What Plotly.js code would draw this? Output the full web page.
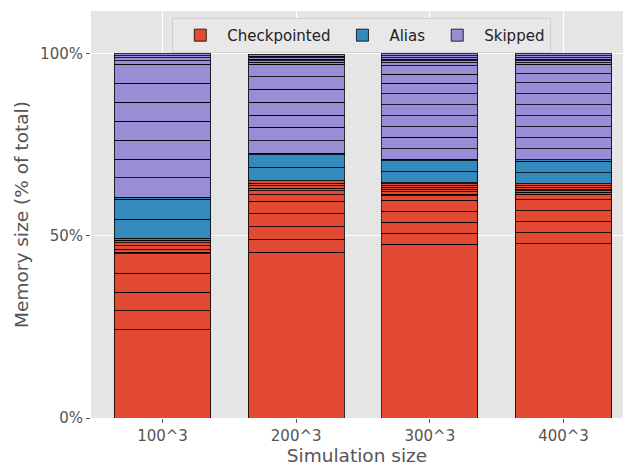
<!DOCTYPE html>
<html>
<head>
<meta charset="utf-8">
<script src="https://cdn.plot.ly/plotly-3.0.1.min.js"></script>
<style>html,body{margin:0;padding:0;background:#fff;}#chart{width:633px;height:466px;}</style>
</head>
<body>
<div id="chart"></div>
<script>
// Category labels (x axis)
const sizes = ['100^3', '200^3', '300^3', '400^3'];

// Segment sizes (% of total), bottom to top, one list per simulation size
const checkpointed = [
  [24.2, 5.2, 5.2, 5.2, 5.3, 0.5, 0.8, 0.9, 0.8, 0.7, 0.6],
  [45.6, 3.5, 3.5, 3.5, 3.4, 1.8, 1.1, 0.7, 0.7, 0.7, 0.7],
  [47.7, 3.0, 3.1, 3.0, 3.0, 1.2, 0.5, 0.7, 0.6, 0.6, 0.4, 0.5, 0.3],
  [47.9, 3.0, 3.0, 3.0, 3.0, 1.5, 0.6, 0.4, 0.5, 0.4, 0.5, 0.5]
];
const alias = [
  [5.2, 5.5, 0.5],
  [3.6, 3.5, 0.4],
  [3.0, 3.0, 0.5],
  [3.1, 3.1, 0.4]
];
const skipped = [
  [5.4, 5.1, 5.2, 5.2, 5.3, 5.1, 5.3, 0.9, 0.9, 0.5, 0.5],
  [3.5, 3.7, 3.3, 3.5, 3.6, 3.4, 3.5, 0.5, 0.4, 0.5, 0.4, 0.4, 0.5],
  [2.9, 3.1, 2.9, 3.0, 3.1, 3.0, 2.9, 2.4, 2.4, 0.8, 0.5, 0.4, 0.5, 0.5, 0.5],
  [3.1, 3.0, 3.0, 3.0, 3.1, 3.0, 3.0, 2.5, 2.6, 0.4, 0.5, 0.4, 0.5, 0.5, 0.5]
];

const groups = [
  {name: 'Checkpointed', data: checkpointed, color: '#E24A33'},
  {name: 'Alias', data: alias, color: '#348ABD'},
  {name: 'Skipped', data: skipped, color: '#988ED5'}
];

const traces = [];
groups.forEach(g => {
  const maxLen = Math.max(...g.data.map(d => d.length));
  for (let j = 0; j < maxLen; j++) {
    traces.push({
      type: 'bar',
      x: sizes,
      y: g.data.map(d => (j < d.length ? d[j] : null)),
      name: g.name,
      legendgroup: g.name,
      showlegend: j === 0,
      width: 0.72,
      marker: {color: g.color, line: {color: 'rgba(0,0,0,0.8)', width: 1}},
      hoverinfo: 'x+y+name'
    });
  }
});

const layout = {
  width: 633, height: 466,
  margin: {l: 91, r: 10, t: 11, b: 48},
  paper_bgcolor: '#ffffff',
  plot_bgcolor: '#E5E5E5',
  barmode: 'stack',
  bargap: 0,
  font: {family: 'DejaVu Sans, sans-serif', color: '#555555', size: 15},
  xaxis: {
    type: 'category',
    range: [-0.535, 3.445],
    showgrid: true, gridcolor: '#ffffff', gridwidth: 1,
    ticks: 'outside', ticklen: 4, tickcolor: '#555555', tickwidth: 1,
    tickfont: {size: 15, color: '#555555'},
    zeroline: false, showline: false,
    automargin: false,
    title: {text: 'Simulation size', font: {size: 18.5, color: '#555555'}, standoff: 4}
  },
  yaxis: {
    range: [0, 111.8],
    tickvals: [0, 50, 100],
    ticktext: ['0%', '50%', '100%'],
    showgrid: true, gridcolor: '#ffffff', gridwidth: 1,
    ticks: 'outside', ticklen: 4, tickcolor: '#555555', tickwidth: 1,
    tickfont: {size: 15, color: '#555555'},
    zeroline: false, showline: false,
    automargin: false,
    title: {text: 'Memory size (% of total)', font: {size: 18.5, color: '#555555'}, standoff: 6}
  },
  legend: {
    orientation: 'h',
    x: 0.509, xanchor: 'center',
    y: 0.983, yanchor: 'top',
    bgcolor: '#e8e8e8',
    bordercolor: '#d0d0d0', borderwidth: 1,
    font: {size: 15, color: '#222222'},
    itemwidth: 44,
    traceorder: 'normal'
  },
  showlegend: true
};

Plotly.newPlot('chart', traces, layout, {displayModeBar: false, staticPlot: true});
</script>
</body>
</html>
